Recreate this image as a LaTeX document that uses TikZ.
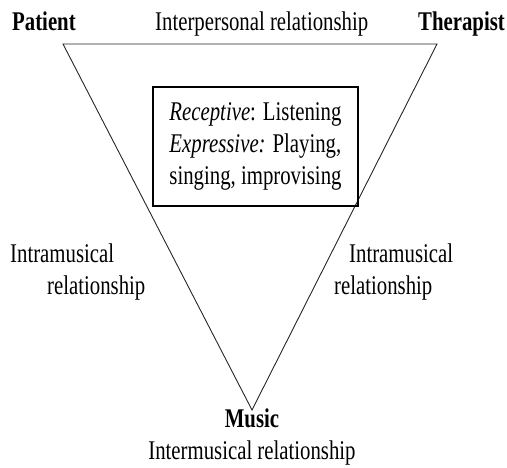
\documentclass[tikz,border=0pt]{standalone}
\usepackage{fontspec}
\setmainfont[FakeStretch=0.77]{Liberation Serif}
\usepackage{tikz}
\usetikzlibrary{positioning}

\tikzset{
    lbl/.style={inner sep=0pt, font=\fontsize{27}{32}\selectfont},
    lblbf/.style={lbl, font=\fontsize{27}{32}\selectfont\bfseries},
    tri/.style={line width=0.9pt, black!85},
    modebox/.style={draw, line width=1.2pt, inner sep=0pt, align=left,
        minimum width=205pt, minimum height=119pt,
        font=\fontsize{27}{32}\selectfont}
}

\begin{document}
\begin{tikzpicture}[x=1pt, y=-1pt]
    \useasboundingbox (0,0) rectangle (507,468);

    % Corners of the triangle
    \coordinate (cp) at (63,44);
    \coordinate (ct) at (437,44);
    \coordinate (cm) at (252,410);
    \draw[tri] (cp) -- (ct) -- (cm) -- cycle;

    % Top labels
    \node[lblbf, anchor=base west] (patient) at (12,31) {Patient};
    \node[lbl, anchor=base west] (interpersonal) at (155,31) {Interpersonal relationship};
    \node[lblbf, anchor=base east] (therapist) at (505,31) {Therapist};

    % Modes of music experience
    \node[modebox] (modes) at (255.5,146.5)
        {\textit{Receptive}: Listening\\
         \textit{Expressive:} Playing,\\
         singing, improvising};

    % Side labels
    \node[lbl, anchor=base west] (intraleft) at (10,263) {Intramusical};
    \node[lbl, anchor=base west] (relleft) at (47,295) {relationship};
    \node[lbl, anchor=base west] (intraright) at (349,263) {Intramusical};
    \node[lbl, anchor=base west] (relright) at (334,295) {relationship};

    % Bottom labels
    \node[lblbf, anchor=base] (music) at (252,428) {Music};
    \node[lbl, anchor=base] (intermusical) at (252,460) {Intermusical relationship};
\end{tikzpicture}
\end{document}
